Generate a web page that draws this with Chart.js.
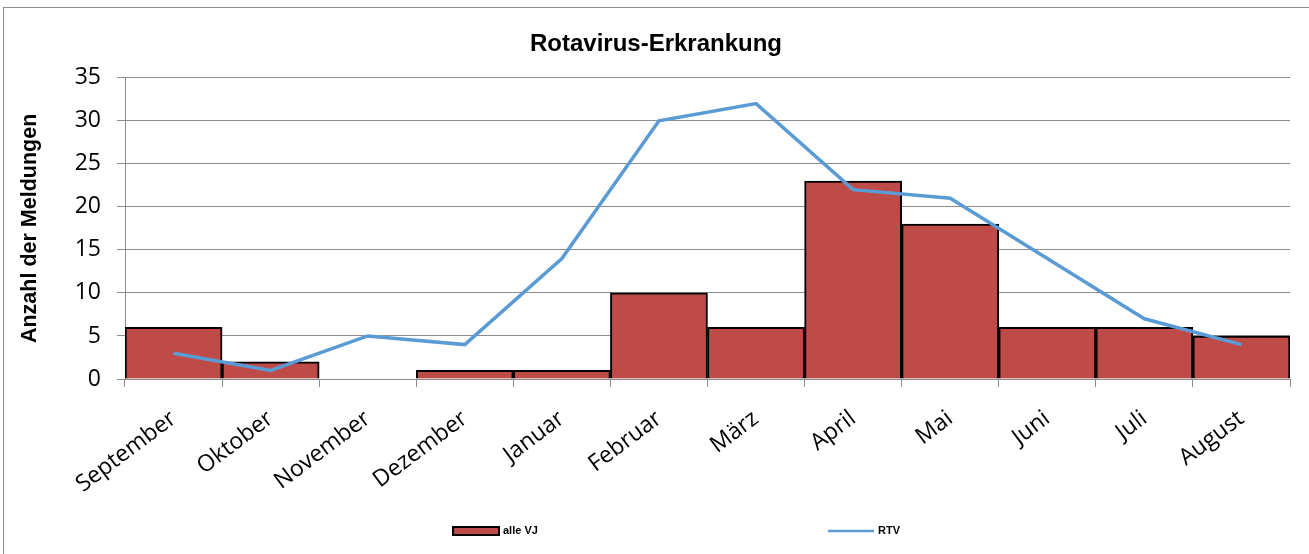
<!DOCTYPE html>
<html>
<head>
<meta charset="utf-8">
<script src="https://cdn.jsdelivr.net/npm/chart.js@4/dist/chart.umd.min.js"></script>
<style>
  body { margin: 0; background: #fff; }
  #wrap { position: relative; width: 1309px; height: 554px; overflow: hidden; }
  #frame { position: absolute; left: 3px; top: 7px; width: 1320px; height: 570px; border: 1px solid #8c8c8c; pointer-events: none; }
  canvas { position: absolute; left: 0; top: 0; }
</style>
</head>
<body>
<div id="wrap">
  <canvas id="myChart" width="1309" height="554"></canvas>
  <div id="frame"></div>
</div>
<script>
const months = ['September', 'Oktober', 'November', 'Dezember', 'Januar', 'Februar', 'März', 'April', 'Mai', 'Juni', 'Juli', 'August']
const alle_vj = [6, 2, 0, 1, 1, 10, 6, 23, 18, 6, 6, 5]
const rtv = [3, 1, 5, 4, 14, 30, 32, 22, 21, 14, 7, 4]
const y_ticks = [0, 5, 10, 15, 20, 25, 30, 35]

const BAR_COLOR = '#BE4B48'
const LINE_COLOR = '#5B9BD5'
const GRID_COLOR = '#8c8c8c'

// legend drawn by hand, the two items sit far apart like in the excel original
const spreadLegend = {
  id: 'spreadLegend',
  afterDraw (chart) {
    const c = chart.ctx
    const w = chart.width
    const y = 531
    const bars = chart.data.datasets[0]
    const line = chart.data.datasets[1]
    c.save()
    c.font = 'bold 11px "Liberation Sans", Arial, sans-serif'
    c.textBaseline = 'middle'

    // bars
    let x = Math.round(w * 0.346)
    c.fillStyle = BAR_COLOR
    c.fillRect(x, y - 4, 46, 8)
    c.strokeStyle = '#000'
    c.lineWidth = 2
    c.strokeRect(x, y - 4, 46, 8)
    c.fillStyle = '#000'
    c.fillText(bars.label, x + 50, y)

    // line
    x = Math.round(w * 0.6326)
    c.strokeStyle = line.borderColor
    c.lineWidth = 2.5
    c.beginPath()
    c.moveTo(x, y)
    c.lineTo(x + 46, y)
    c.stroke()
    c.fillText(line.label, x + 50, y)
    c.restore()
  }
}

const ctx = document.getElementById('myChart').getContext('2d')

new Chart(ctx, {
  type: 'bar',
  data: {
    labels: months,
    datasets: [
      {
        label: 'alle VJ',
        data: alle_vj,
        backgroundColor: c => (c.raw === 0 ? 'rgba(0,0,0,0)' : BAR_COLOR),
        borderColor: '#000',
        borderWidth: c => (c.raw === 0 ? 0 : 2),
        barPercentage: 1,
        categoryPercentage: 1,
        order: 1
      },
      {
        type: 'line',
        label: 'RTV',
        data: rtv,
        borderColor: LINE_COLOR,
        backgroundColor: LINE_COLOR,
        borderWidth: 3.5,
        pointRadius: 0,
        tension: 0,
        order: 0
      }
    ]
  },
  options: {
    responsive: false,
    animation: false,
    layout: {
      padding: { left: 22, right: 19, top: 25, bottom: 0 }
    },
    plugins: {
      legend: { display: false },
      tooltip: { enabled: false },
      title: {
        display: true,
        text: 'Rotavirus-Erkrankung',
        color: '#000',
        font: { family: "'Liberation Sans', Arial, sans-serif", size: 24, weight: 'bold' },
        padding: { top: 5, bottom: 19 }
      }
    },
    scales: {
      x: {
        offset: true,
        grid: {
          offset: true,
          drawOnChartArea: false,
          color: GRID_COLOR,
          tickLength: 8
        },
        border: { color: GRID_COLOR },
        ticks: {
          color: '#000',
          font: { family: "'Open Sans', sans-serif", size: 23 },
          minRotation: 37,
          maxRotation: 37,
          autoSkip: false,
          padding: 18
        },
        afterFit: axis => { axis.height = 175 }
      },
      y: {
        min: 0,
        max: 35,
        afterBuildTicks: axis => { axis.ticks = y_ticks.map(v => ({ value: v })) },
        grid: {
          color: GRID_COLOR,
          tickLength: 8
        },
        border: { color: GRID_COLOR },
        ticks: {
          color: '#000',
          font: { family: "'Open Sans', sans-serif", size: 23 },
          padding: 16
        },
        title: {
          display: true,
          text: 'Anzahl der Meldungen',
          color: '#000',
          font: { family: "'Liberation Sans', Arial, sans-serif", size: 21.5, weight: 'bold' },
          padding: { top: -5, bottom: 0 }
        },
        afterFit: axis => { axis.width = 103 }
      }
    }
  },
  plugins: [spreadLegend]
})
</script>
</body>
</html>
